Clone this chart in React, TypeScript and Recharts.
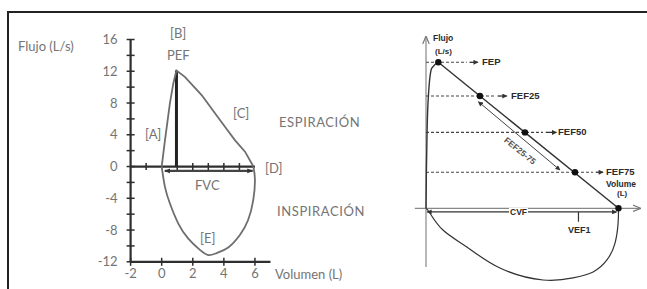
import { ComposedChart, Line, ReferenceLine, Scatter, XAxis, YAxis } from 'recharts';

// left panel: flow-volume loop (volume in L, flow in L/s)
const leftExpVol = [0, 0.21, 0.53, 0.75, 0.95, 1.49, 2.57, 3.43, 4.07, 4.71, 5.36, 5.9];
const leftExpFlow = [0, 3.3, 8.0, 10.5, 12.1, 11.3, 9.0, 6.7, 5.0, 3.33, 1.87, 0];
const leftInsVol = [0, 0.21, 0.53, 1.07, 1.71, 2.46, 3.0, 3.54, 4.28, 5.03, 5.56, 5.89, 6.0, 5.9];
const leftInsFlow = [0, -2.56, -4.66, -7.18, -9.07, -10.5, -11.15, -10.9, -10.2, -8.63, -6.74, -4.22, -1.7, 0];
const leftXTicks = [-2, 0, 2, 4, 6];
const leftYTicks = [-12, -10, -8, -6, -4, -2, 0, 2, 4, 6, 8, 10, 12, 14, 16];
const zeroLineTicks = [-1, 1, 2, 3, 4, 5];
const pefVol = 0.95;
const pefFlow = 12.1;
const fvcStart = 0.2;
const fvcEnd = 5.85;

// right panel: idealised curve with FEF points
const rightRiseVol = [0, 0.01, 0.03, 0.07, 0.15, 0.32];
const rightRiseFlow = [0, 2.5, 5.5, 8, 9.6, 10];
const rightInsVol = [0, 0.1, 0.44, 1.06, 1.92, 3.04, 3.82, 4.34, 4.7, 4.91, 4.99, 5];
const rightInsFlow = [0, -0.32, -1.49, -2.65, -4.09, -4.91, -4.77, -4.36, -3.54, -2.38, -1.0, 0];
const fefNames = ['FEP', 'FEF25', 'FEF50', 'FEF75'];
const fefVol = [0.32, 1.4, 2.57, 3.87];
const fefFlow = [10, 7.69, 5.2, 2.47];
const fefDashEnd = [1.06, 1.79, 3.04, 4.34];
const fefArrowEnd = [1.35, 2.1, 3.39, 4.6];
const cvf = 5;
const vef1 = 3.96;
const midRange = [
  { x: 1.36, y: 7.3 },
  { x: 3.48, y: 2.62 },
];

const pts = (xs: number[], ys: number[]) => xs.map((x, i) => ({ x, y: ys[i] }));

const LEFT_TXT = { fontFamily: 'Lato, sans-serif', fontSize: 13, color: '#747474' };
const RIGHT_TXT = { fontFamily: '"Liberation Sans", Arial, sans-serif', fontWeight: 700, color: '#2b2b2b' };
const AXIS = '#2e2e2e';

function Txt({ x, y, size, style, children, bg }: any) {
  return (
    <span
      style={{
        position: 'absolute',
        left: x,
        top: y,
        transform: 'translateY(-50%)',
        whiteSpace: 'nowrap',
        lineHeight: 1,
        fontSize: size,
        background: bg,
        ...style,
      }}
    >
      {children}
    </span>
  );
}

function XTick({ x, y, payload }: any) {
  return (
    <g>
      <line x1={x} x2={x} y1={y - 4} y2={y + 4} stroke={AXIS} strokeWidth={1.5} />
      <text x={x} y={y + 16} textAnchor="middle" fontFamily="Lato, sans-serif" fontSize={13} fill="#747474">
        {payload.value}
      </text>
    </g>
  );
}

function YTick({ x, y, payload }: any) {
  const v = payload.value;
  return (
    <g>
      <line x1={x - 4} x2={x + 4} y1={y} y2={y} stroke={AXIS} strokeWidth={1.5} />
      {v % 4 === 0 && (
        <text x={x - 13} y={y + 4.5} textAnchor="end" fontFamily="Lato, sans-serif" fontSize={13} fill="#747474">
          {v}
        </text>
      )}
    </g>
  );
}

function LeftChart() {
  return (
    <ComposedChart width={340} height={289} margin={{ top: 39.5, right: 69.5, bottom: 7.2, left: 90.6 }}>
      <defs>
        <marker id="fvcHead" viewBox="0 0 10 10" refX="9" refY="5" markerWidth="6" markerHeight="6" markerUnits="userSpaceOnUse" orient="auto-start-reverse">
          <path d="M0,1 L10,5 L0,9 z" fill="#333" />
        </marker>
      </defs>
      <XAxis
        type="number"
        dataKey="x"
        domain={[-2, 7]}
        ticks={leftXTicks}
        interval={0}
        height={20}
        tickSize={0}
        tickMargin={0}
        tickLine={false}
        axisLine={{ stroke: AXIS, strokeWidth: 2.2 }}
        tick={<XTick />}
      />
      <YAxis
        type="number"
        dataKey="y"
        domain={[-12, 16]}
        ticks={leftYTicks}
        interval={0}
        width={40}
        tickSize={0}
        tickMargin={0}
        tickLine={false}
        axisLine={{ stroke: AXIS, strokeWidth: 2.2 }}
        tick={<YTick />}
      />
      <ReferenceLine segment={[{ x: -2, y: 0 }, { x: 6, y: 0 }]} stroke={AXIS} strokeWidth={2.2} />
      <ReferenceLine
        segment={[{ x: fvcStart, y: -0.55 }, { x: fvcEnd, y: -0.55 }]}
        stroke="#444"
        strokeWidth={2.4}
        markerStart="url(#fvcHead)"
        markerEnd="url(#fvcHead)"
      />
      <ReferenceLine segment={[{ x: pefVol, y: 0 }, { x: pefVol, y: pefFlow }]} stroke="#222" strokeWidth={3} />
      <Scatter
        data={zeroLineTicks.map((x) => ({ x, y: 0 }))}
        isAnimationActive={false}
        shape={(p: any) => <line x1={p.cx} x2={p.cx} y1={p.cy - 3.5} y2={p.cy + 3.5} stroke={AXIS} strokeWidth={1.5} />}
      />
      <Line data={pts(leftExpVol, leftExpFlow)} dataKey="y" type="linear" stroke="#6e6e6e" strokeWidth={1.8} dot={false} isAnimationActive={false} />
      <Line data={pts(leftInsVol, leftInsFlow)} dataKey="y" type="natural" stroke="#6e6e6e" strokeWidth={1.8} dot={false} isAnimationActive={false} />
    </ComposedChart>
  );
}

function RightChart() {
  return (
    <ComposedChart width={267} height={289} margin={{ top: 25.8, right: 1.55, bottom: 0.4, left: 26.75 }}>
      <defs>
        <marker id="solidHead" viewBox="0 0 10 10" refX="9" refY="5" markerWidth="6" markerHeight="5" markerUnits="userSpaceOnUse" orient="auto-start-reverse">
          <path d="M0,0 L10,5 L0,10 z" fill="#333" />
        </marker>
        <marker id="openHead" viewBox="0 0 10 10" refX="9" refY="5" markerWidth="8" markerHeight="8" markerUnits="userSpaceOnUse" orient="auto">
          <path d="M0,1 L10,5 L0,9" fill="none" stroke="#777" strokeWidth={1.5} />
        </marker>
      </defs>
      <XAxis type="number" dataKey="x" domain={[-0.5, 5.7]} hide />
      <YAxis type="number" dataKey="y" domain={[-5.5, 12.5]} hide />
      <ReferenceLine segment={[{ x: 0, y: -4.02 }, { x: 0, y: 11.75 }]} stroke="#888" strokeWidth={1.2} markerEnd="url(#openHead)" />
      <ReferenceLine segment={[{ x: -0.29, y: 0 }, { x: 5.56, y: 0 }]} stroke="#888" strokeWidth={1.2} markerEnd="url(#openHead)" />
      {fefNames.map((n, i) => (
        <ReferenceLine
          key={n + 'd'}
          segment={[{ x: 0, y: fefFlow[i] }, { x: fefDashEnd[i], y: fefFlow[i] }]}
          stroke="#444"
          strokeWidth={1.1}
          strokeDasharray="3 2"
        />
      ))}
      {fefNames.map((n, i) => (
        <ReferenceLine
          key={n + 'a'}
          segment={[{ x: fefDashEnd[i] + 0.07, y: fefFlow[i] }, { x: fefArrowEnd[i], y: fefFlow[i] }]}
          stroke="#333"
          strokeWidth={1.3}
          markerEnd="url(#solidHead)"
        />
      ))}
      <ReferenceLine
        segment={midRange}
        stroke="#444"
        strokeWidth={1}
        markerStart="url(#solidHead)"
        markerEnd="url(#solidHead)"
      />
      <ReferenceLine
        segment={[{ x: 0.03, y: -0.25 }, { x: cvf - 0.05, y: -0.25 }]}
        stroke="#333"
        strokeWidth={1.2}
        markerStart="url(#solidHead)"
        markerEnd="url(#solidHead)"
      />
      <ReferenceLine segment={[{ x: vef1, y: -0.25 }, { x: vef1, y: -0.92 }]} stroke="#333" strokeWidth={1.2} />
      <Line data={pts(rightRiseVol, rightRiseFlow)} dataKey="y" type="monotone" stroke="#333" strokeWidth={1.4} dot={false} isAnimationActive={false} />
      <Line data={[{ x: fefVol[0], y: fefFlow[0] }, { x: cvf, y: 0 }]} dataKey="y" type="linear" stroke="#333" strokeWidth={1.4} dot={false} isAnimationActive={false} />
      <Line data={pts(rightInsVol, rightInsFlow)} dataKey="y" type="natural" stroke="#333" strokeWidth={1.2} dot={false} isAnimationActive={false} />
      <Scatter
        data={[...pts(fefVol, fefFlow), { x: cvf, y: 0 }]}
        isAnimationActive={false}
        shape={(p: any) => <circle cx={p.cx} cy={p.cy} r={3.2} fill="#111" />}
      />
    </ComposedChart>
  );
}

export default function App() {
  return (
    <div style={{ position: 'relative', width: 647, height: 289, background: '#fff', overflow: 'hidden' }}>
      <style>{'body{margin:0}'}</style>
      <div style={{ position: 'absolute', left: 7, top: 11, right: 0, height: 1.5, background: '#222' }} />
      <div style={{ position: 'absolute', left: 7, top: 11, bottom: 0, width: 1.5, background: '#222' }} />

      <div style={{ position: 'absolute', left: 0, top: 0 }}>
        <LeftChart />
      </div>
      <div style={{ position: 'absolute', left: 380, top: 0 }}>
        <RightChart />
      </div>

      <Txt x={18} y={46} size={13} style={LEFT_TXT}>Flujo (L/s)</Txt>
      <Txt x={170} y={33} size={13} style={LEFT_TXT}>[B]</Txt>
      <Txt x={167} y={55} size={13} style={LEFT_TXT}>PEF</Txt>
      <Txt x={145} y={134} size={13} style={LEFT_TXT}>[A]</Txt>
      <Txt x={233} y={113} size={13} style={LEFT_TXT}>[C]</Txt>
      <Txt x={279} y={122} size={13} style={{ ...LEFT_TXT, letterSpacing: 0.6 }}>ESPIRACIÓN</Txt>
      <Txt x={265} y={168} size={13} style={LEFT_TXT}>[D]</Txt>
      <Txt x={195} y={185} size={13} style={LEFT_TXT}>FVC</Txt>
      <Txt x={277} y={211} size={13} style={{ ...LEFT_TXT, letterSpacing: 0.6 }}>INSPIRACIÓN</Txt>
      <Txt x={200} y={238} size={13} style={LEFT_TXT}>[E]</Txt>
      <Txt x={275} y={274} size={13} style={LEFT_TXT}>Volumen (L)</Txt>

      <Txt x={433} y={38} size={8.5} style={RIGHT_TXT}>Flujo</Txt>
      <Txt x={435} y={52} size={8} style={RIGHT_TXT}>(L/s)</Txt>
      {fefNames.map((n, i) => (
        <Txt key={n} x={[482, 511, 558, 606][i]} y={[62, 96, 132, 172][i]} size={9.5} style={RIGHT_TXT}>
          {n}
        </Txt>
      ))}
      <span
        style={{
          position: 'absolute',
          left: 520,
          top: 151,
          transform: 'translate(-50%, -50%) rotate(39deg)',
          whiteSpace: 'nowrap',
          lineHeight: 1,
          fontSize: 8.5,
          ...RIGHT_TXT,
          color: '#555',
        }}
      >
        FEF25-75
      </span>
      <Txt x={606} y={184} size={8.5} style={RIGHT_TXT}>Volume</Txt>
      <Txt x={617} y={194} size={8} style={RIGHT_TXT}>(L)</Txt>
      <Txt x={509} y={212} size={8.5} style={{ ...RIGHT_TXT, padding: '0 1px' }} bg="#fff">CVF</Txt>
      <Txt x={568} y={230} size={9} style={RIGHT_TXT}>VEF1</Txt>
    </div>
  );
}
